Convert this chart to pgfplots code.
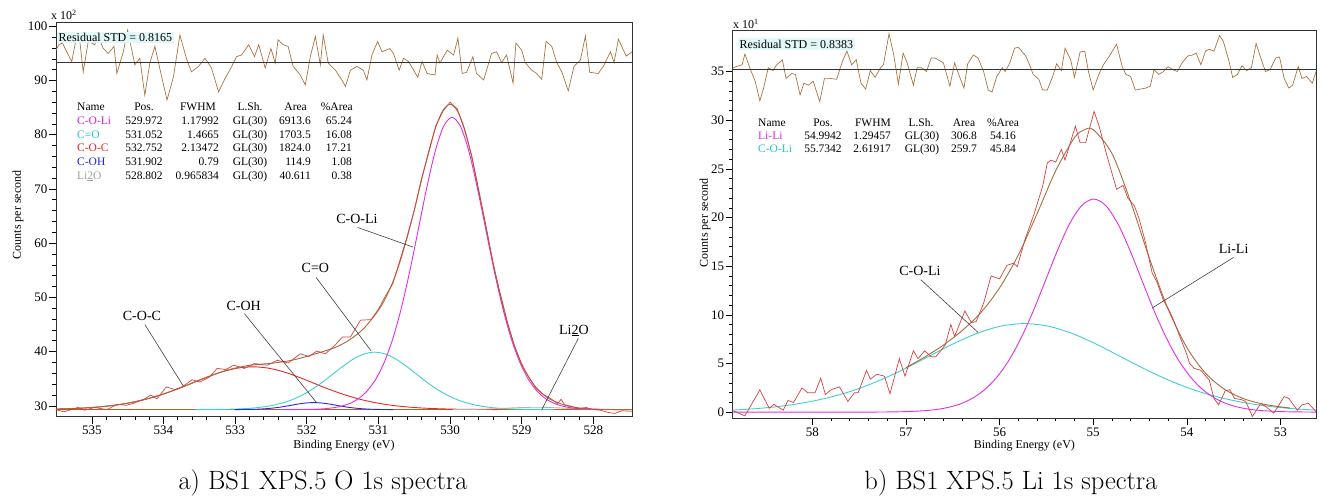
\documentclass[border=0pt]{standalone}
\usepackage{fontspec}
\usepackage{pgfplots}
\pgfplotsset{compat=1.18}
\newfontfamily\tnr{Liberation Serif}
\definecolor{rawred}{HTML}{D84040}
\definecolor{envbrown}{HTML}{A0703C}
\definecolor{resbrown}{HTML}{A87440}
\definecolor{cmag}{HTML}{E030E0}
\definecolor{ccyan}{HTML}{40D0D0}
\definecolor{cred}{HTML}{E82828}
\definecolor{cblue}{HTML}{2828E0}
\definecolor{cgray}{HTML}{B4B4B4}
\definecolor{bgbrown}{HTML}{A8642A}
\definecolor{stdbg}{HTML}{E2F8F8}
\definecolor{leader}{HTML}{404040}
\definecolor{tabmag}{HTML}{E020E0}
\definecolor{tabcyan}{HTML}{20C8C8}
\definecolor{tabred}{HTML}{F02020}
\definecolor{tabblue}{HTML}{2020E8}
\definecolor{tabgray}{HTML}{A0A0A0}
\newcommand\labf{\tnr\fontsize{14}{16}\selectfont}
\newcommand\tabf{\tnr\fontsize{11.5}{13}\selectfont}
\newcommand\smf{\tnr\fontsize{12}{14}\selectfont}
\newcommand\tcell[4]{\node[anchor=#1, inner sep=0pt, font=\tabf] at (#2pt,#3pt) {#4};}
\tikzset{lead/.style={leader, line width=0.6pt}}
\pgfplotsset{
 casa/.style={
  scale only axis,
  x dir=reverse,
  axis line style={line width=0.8pt, black!80},
  tick align=outside,
  xtick pos=left, ytick pos=left,
  minor x tick num=4, minor y tick num=4,
  major tick length=7pt, minor tick length=3.5pt,
  every tick/.style={black, line width=0.6pt},
  tick label style={font=\tnr\fontsize{13}{15}\selectfont},
  xticklabel style={yshift=1pt},
  yticklabel style={xshift=2pt},
  /pgf/number format/assume math mode=true,
  /pgf/number format/1000 sep={},
 },
}
\begin{document}
\begin{tikzpicture}
\useasboundingbox (0,0) rectangle (1325pt,497pt);
% ================= LEFT PANEL =================
\begin{axis}[casa, at={(56pt,80.3pt)}, anchor=south west, width=576pt, height=394pt,
 xmin=527.46, xmax=535.5, ymin=28, ymax=100.66,
 xtick={528,529,530,531,532,533,534,535}, ytick={30,40,50,60,70,80,90,100}]
% background
\addplot[bgbrown, line width=0.9pt] coordinates {(535.5,29.3) (527.46,29.3)};
% C-O-C
\addplot[cred, line width=0.9pt, smooth] coordinates {
(535.527,29.40) (535.314,29.48) (535.100,29.61) (534.887,29.82) (534.673,30.13) (534.460,30.59)
(534.246,31.22) (534.033,32.04) (533.819,33.04) (533.606,34.16) (533.392,35.29) (533.179,36.28)
(532.965,36.96) (532.752,37.20) (532.539,36.96) (532.325,36.28) (532.112,35.29) (531.898,34.16)
(531.685,33.04) (531.471,32.04) (531.258,31.22) (531.044,30.59) (530.831,30.13) (530.617,29.82)
(530.404,29.61) (530.190,29.48) (529.977,29.40) (529.763,29.35) (529.550,29.33) (529.336,29.31)};
% C=O
\addplot[ccyan, line width=0.9pt, smooth] coordinates {
(533.545,29.31) (533.252,29.34) (533.105,29.37) (532.958,29.43) (532.812,29.54) (532.665,29.71)
(532.519,29.99) (532.372,30.42) (532.225,31.03) (532.079,31.88) (531.932,32.98) (531.785,34.32)
(531.639,35.82) (531.492,37.33) (531.345,38.66) (531.199,39.57) (531.052,39.90) (530.905,39.57)
(530.759,38.66) (530.612,37.33) (530.465,35.82) (530.319,34.32) (530.172,32.98) (530.025,31.88)
(529.879,31.03) (529.732,30.42) (529.585,29.99) (529.439,29.71) (529.292,29.54) (529.146,29.43)
(528.999,29.37) (528.852,29.34) (528.559,29.31)};
% C-OH
\addplot[cblue, line width=0.9pt, smooth] coordinates {
(533.008,29.31) (532.850,29.33) (532.692,29.38) (532.613,29.44) (532.534,29.51) (532.455,29.62)
(532.376,29.75) (532.297,29.92) (532.218,30.10) (532.139,30.29) (532.060,30.45) (531.981,30.56)
(531.902,30.60) (531.823,30.56) (531.744,30.45) (531.665,30.29) (531.586,30.10) (531.507,29.92)
(531.428,29.75) (531.349,29.62) (531.270,29.51) (531.191,29.44) (531.112,29.38) (530.954,29.33)
(530.796,29.31)};
% Li2O
\addplot[cgray, line width=0.9pt, smooth] coordinates {
(529.962,29.31) (529.672,29.35) (529.382,29.46) (529.092,29.64) (528.802,29.75) (528.512,29.64)
(528.222,29.46) (527.932,29.35) (527.642,29.31)};
% C-O-Li
\addplot[cmag, line width=0.9pt, smooth] coordinates {
(532.332,29.30) (532.096,29.32) (531.860,29.39) (531.742,29.48) (531.624,29.66) (531.506,29.97)
(531.388,30.51) (531.270,31.40) (531.152,32.82) (531.034,34.98) (530.916,38.10) (530.798,42.41)
(530.680,48.02) (530.562,54.82) (530.444,62.45) (530.326,70.15) (530.208,76.89) (530.090,81.54)
(529.972,83.20) (529.854,81.54) (529.736,76.89) (529.618,70.15) (529.500,62.45) (529.382,54.82)
(529.264,48.02) (529.146,42.41) (529.028,38.10) (528.910,34.98) (528.792,32.82) (528.674,31.40)
(528.556,30.51) (528.438,29.97) (528.320,29.66) (528.202,29.48) (528.084,29.39) (527.848,29.32)
(527.612,29.30)};
% envelope
\addplot[envbrown, line width=0.9pt, smooth] coordinates {
(535.50,29.41) (535.20,29.54) (534.90,29.80) (534.60,30.27) (534.30,31.05) (534.00,32.19)
(533.70,33.66) (533.40,35.27) (533.10,36.63) (532.80,37.47) (532.50,37.84) (532.20,38.43)
(531.90,39.51) (531.60,40.79) (531.40,42.20) (531.20,44.33) (531.00,47.60) (530.90,49.88)
(530.80,52.78) (530.70,56.50) (530.60,60.97) (530.50,66.04) (530.40,71.52) (530.30,76.80)
(530.20,81.36) (530.10,84.45) (530.00,85.62) (529.90,84.45) (529.80,81.18) (529.70,76.04)
(529.60,69.82) (529.50,63.09) (529.40,56.49) (529.30,50.45) (529.20,45.29) (529.10,41.06)
(529.00,37.76) (528.90,35.27) (528.80,33.43) (528.70,32.14) (528.60,31.20) (528.40,30.13)
(528.20,29.62) (528.00,29.41) (527.75,29.33) (527.50,29.30)};
% raw data
\addplot[rawred, line width=0.7pt] coordinates {
(535.50,29.3) (535.39,28.9) (535.19,29.7) (535.10,29.2) (534.96,29.7) (534.79,29.3) (534.64,30.3)
(534.52,30.1) (534.41,30.5) (534.26,31.3) (534.18,32.0) (534.09,31.3) (533.96,33.5) (533.84,33.0)
(533.74,33.5) (533.60,34.8) (533.49,34.4) (533.36,35.3) (533.25,36.9) (533.13,36.7) (533.02,37.5)
(532.87,36.9) (532.73,37.8) (532.55,37.5) (532.41,38.4) (532.26,37.9) (532.09,39.6) (531.97,39.1)
(531.86,40.1) (531.74,39.6) (531.62,41.0) (531.50,42.7) (531.39,42.7) (531.25,45.8) (531.10,45.9)
(531.00,47.8) (530.90,50.3) (530.80,52.5) (530.70,56.8) (530.60,61.2) (530.50,66.0) (530.40,71.8)
(530.30,76.5) (530.20,81.6) (530.10,84.3) (530.00,86.0) (529.90,84.8) (529.80,81.0) (529.70,76.3)
(529.60,69.6) (529.50,63.3) (529.40,56.2) (529.30,50.8) (529.20,45.5) (529.10,41.0) (529.00,37.6)
(528.90,35.3) (528.80,33.2) (528.70,32.1) (528.60,31.4) (528.50,30.4) (528.45,31.2) (528.40,30.2)
(528.30,29.9) (528.20,29.5) (528.10,29.7) (528.00,29.3) (527.90,29.2) (527.80,28.8) (527.70,28.6)
(527.60,29.1) (527.46,29.0)};
% residual
\addplot[resbrown, line width=0.7pt] coordinates {
(535.50,95.6) (535.46,96.6) (535.41,96.9) (535.35,95.3) (535.28,93.5) (535.23,96.9) (535.18,98.7)
(535.12,91.6) (535.05,97.2) (534.96,96.6) (534.91,98.1) (534.84,95.9) (534.77,95.0) (534.69,96.3)
(534.65,91.3) (534.56,95.3) (534.50,99.3) (534.40,92.9) (534.33,94.1) (534.26,87.3) (534.19,93.2)
(534.12,96.3) (534.02,90.4) (533.95,86.4) (533.86,90.7) (533.77,98.4) (533.68,94.1) (533.61,91.6)
(533.51,92.6) (533.42,94.1) (533.33,92.3) (533.23,87.9) (533.14,90.4) (533.07,92.0) (532.98,94.4)
(532.91,94.7) (532.81,96.6) (532.73,94.4) (532.67,96.6) (532.58,92.3) (532.50,95.9) (532.44,93.2)
(532.40,97.5) (532.33,96.6) (532.26,96.3) (532.19,92.6) (532.09,91.0) (532.02,89.2) (531.95,94.4)
(531.88,98.1) (531.81,92.9) (531.77,98.4) (531.70,93.2) (531.60,91.9) (531.51,90.1) (531.46,88.9)
(531.39,91.9) (531.30,92.6) (531.21,91.9) (531.16,90.1) (531.09,94.7) (531.01,97.2) (530.95,95.3)
(530.84,95.9) (530.79,95.0) (530.71,91.9) (530.65,94.1) (530.58,93.5) (530.45,90.6) (530.39,93.5)
(530.32,91.3) (530.21,91.0) (530.18,94.7) (530.14,93.2) (530.04,95.6) (529.95,94.7) (529.89,97.8)
(529.83,91.3) (529.77,91.5) (529.68,94.4) (529.63,91.3) (529.53,90.1) (529.42,95.0) (529.35,95.3)
(529.28,93.3) (529.21,94.7) (529.12,89.5) (529.08,96.9) (529.00,95.6) (528.95,93.3) (528.86,91.9)
(528.79,91.3) (528.72,90.2) (528.66,97.2) (528.58,96.3) (528.51,93.3) (528.44,91.6) (528.35,88.1)
(528.27,92.6) (528.18,93.8) (528.11,98.2) (528.05,91.5) (527.93,91.3) (527.86,92.6) (527.76,95.3)
(527.71,93.3) (527.65,97.6) (527.54,94.5) (527.46,95.3)};
% residual baseline
\addplot[black!80, line width=0.8pt] coordinates {(535.5,93.3) (527.46,93.3)};
% labels
\node[font=\labf] at (axis cs:531.30,64.5) {C-O-Li};
\draw[lead] (axis cs:531.29,62.9) -- (axis cs:530.52,59.3);
\node[font=\labf] at (axis cs:531.88,55.5) {C=O};
\draw[lead] (axis cs:531.87,53.7) -- (axis cs:531.10,40.1);
\node[font=\labf] at (axis cs:532.88,48.4) {C-OH};
\draw[lead] (axis cs:532.87,47.0) -- (axis cs:531.86,30.55);
\node[font=\labf] at (axis cs:534.30,46.6) {C-O-C};
\draw[lead] (axis cs:534.26,45.0) -- (axis cs:533.72,33.6);
\node[font=\labf] at (axis cs:528.27,43.9) {Li\underline{2}O};
\draw[lead] (axis cs:528.21,42.4) -- (axis cs:528.72,29.3);
\end{axis}
% ================= RIGHT PANEL =================
\begin{axis}[casa, at={(732.7pt,79pt)}, anchor=south west, width=583.3pt, height=387.3pt,
 xmin=52.62, xmax=58.85, ymin=-0.6, ymax=39.2,
 xtick={53,54,55,56,57,58}, ytick={0,5,10,15,20,25,30,35}]
% C-O-Li (cyan)
\addplot[ccyan, line width=0.9pt, smooth] coordinates {
(58.877,0.20) (58.615,0.35) (58.353,0.59) (58.091,0.96) (57.829,1.49) (57.567,2.21) (57.306,3.16)
(57.044,4.31) (56.782,5.60) (56.520,6.90) (56.258,8.03) (55.996,8.82) (55.734,9.10) (55.472,8.82)
(55.210,8.03) (54.948,6.90) (54.686,5.60) (54.424,4.31) (54.162,3.16) (53.901,2.21) (53.639,1.49)
(53.377,0.96) (53.115,0.59) (52.853,0.35) (52.591,0.20)};
% Li-Li (magenta)
\addplot[cmag, line width=0.9pt, smooth] coordinates {
(58.85,0.0) (57.583,0.0) (57.324,0.01) (57.065,0.04) (56.936,0.08) (56.806,0.15) (56.677,0.27)
(56.548,0.49) (56.418,0.85) (56.289,1.43) (56.159,2.31) (56.030,3.58) (55.900,5.33) (55.771,7.60)
(55.641,10.37) (55.512,13.47) (55.382,16.60) (55.253,19.34) (55.123,21.22) (54.994,21.90)
(54.865,21.22) (54.735,19.34) (54.606,16.60) (54.476,13.47) (54.347,10.37) (54.217,7.60)
(54.088,5.33) (53.958,3.58) (53.829,2.31) (53.699,1.43) (53.570,0.85) (53.440,0.49) (53.311,0.27)
(53.182,0.15) (53.052,0.08) (52.923,0.04) (52.664,0.01) (52.61,0.0)};
% envelope
\addplot[envbrown, line width=0.9pt, smooth] coordinates {
(57.0,4.57) (56.8,5.66) (56.6,6.89) (56.4,8.38) (56.2,10.23) (56.0,12.77) (55.8,16.14) (55.6,20.37)
(55.4,24.81) (55.2,28.21) (55.1,28.99) (55.0,29.03) (54.8,26.59) (54.6,21.62) (54.4,15.83) (54.2,10.60)
(54.0,6.65) (53.8,4.00) (53.6,2.37) (53.4,1.41) (53.2,0.86) (53.0,0.54) (52.9,0.43)};
% raw data
\addplot[rawred, line width=0.7pt] coordinates {
(58.85,0.17) (58.72,-0.38) (58.56,2.29) (58.46,0.4) (58.41,0.8) (58.31,0.2) (58.26,1.2) (58.20,1.0)
(58.11,2.5) (58.05,2.0) (57.97,2.0) (57.91,3.5) (57.86,1.8) (57.80,2.3) (57.71,2.6) (57.62,1.1)
(57.55,2.0) (57.51,2.0) (57.42,4.3) (57.38,3.4) (57.31,3.9) (57.23,3.7) (57.17,1.9) (57.07,5.5)
(57.01,3.7) (56.92,6.3) (56.87,5.5) (56.80,6.3) (56.73,5.7) (56.68,5.7) (56.58,6.9) (56.52,9.0)
(56.48,7.8) (56.37,10.4) (56.30,9.2) (56.25,9.3) (56.17,11.2) (56.09,14.0) (56.00,13.7) (55.92,15.1)
(55.85,15.3) (55.81,14.95) (55.73,17.7) (55.63,20.4) (55.54,23.2) (55.49,25.6) (55.45,25.9)
(55.40,25.7) (55.34,27.0) (55.30,25.9) (55.19,29.4) (55.14,27.7) (55.08,27.7) (54.99,30.9)
(54.94,29.5) (54.86,26.6) (54.75,22.9) (54.68,23.3) (54.63,22.0) (54.56,21.2) (54.51,19.9)
(54.44,17.4) (54.37,14.3) (54.32,13.4) (54.25,11.5) (54.18,10.3) (54.13,9.2) (54.08,7.9) (54.01,6.2)
(53.97,5.0) (53.92,4.5) (53.85,4.3) (53.76,3.3) (53.71,1.4) (53.66,0.75) (53.59,2.2) (53.54,2.3)
(53.49,1.4) (53.42,1.3) (53.37,1.1) (53.30,-0.45) (53.21,0.9) (53.16,0.6) (53.07,-0.1) (52.96,1.6)
(52.91,1.4) (52.82,0.2) (52.77,0.75) (52.70,0.9) (52.62,0.06)};
% residual
\addplot[resbrown, line width=0.7pt] coordinates {
(58.85,35.35) (58.81,35.52) (58.75,35.69) (58.72,36.8) (58.66,35.2) (58.61,34.0) (58.56,32.0)
(58.52,33.3) (58.47,35.4) (58.42,35.1) (58.38,35.7) (58.32,36.2) (58.28,34.3) (58.22,34.8)
(58.18,34.7) (58.13,32.6) (58.09,33.8) (58.04,33.6) (57.99,34.0) (57.92,31.9) (57.87,34.3)
(57.81,34.3) (57.74,34.2) (57.68,36.0) (57.63,37.1) (57.58,35.7) (57.53,36.2) (57.48,33.8)
(57.43,33.2) (57.38,35.1) (57.33,34.4) (57.27,35.4) (57.24,35.7) (57.18,38.9) (57.13,36.7)
(57.08,33.7) (57.03,36.9) (56.99,36.0) (56.92,33.6) (56.88,35.4) (56.83,35.4) (56.78,35.0)
(56.73,36.4) (56.69,36.4) (56.60,35.9) (56.53,33.5) (56.48,35.9) (56.42,34.3) (56.38,33.3)
(56.34,35.8) (56.28,36.7) (56.23,36.4) (56.17,35.0) (56.12,33.1) (56.08,32.9) (56.03,34.5)
(55.97,35.4) (55.94,35.0) (55.89,35.9) (55.84,37.4) (55.80,37.5) (55.72,36.6) (55.68,35.7)
(55.64,34.7) (55.58,34.2) (55.54,33.1) (55.49,33.1) (55.44,34.3) (55.39,35.8) (55.34,35.1)
(55.30,37.4) (55.24,36.2) (55.20,34.4) (55.14,37.0) (55.09,37.1) (55.05,35.0) (55.00,33.1)
(54.94,34.7) (54.89,35.7) (54.82,36.7) (54.75,37.8) (54.69,35.5) (54.65,34.7) (54.60,34.5)
(54.55,33.1) (54.44,33.3) (54.39,33.5) (54.35,35.2) (54.30,34.7) (54.25,35.0) (54.20,35.5)
(54.15,35.2) (54.10,35.0) (54.05,35.9) (53.99,36.6) (53.94,36.7) (53.90,36.9) (53.85,35.7)
(53.80,37.1) (53.76,37.3) (53.71,37.1) (53.65,38.7) (53.61,38.1) (53.55,36.1) (53.51,34.4)
(53.46,34.7) (53.41,35.6) (53.36,35.1) (53.31,35.4) (53.26,37.9) (53.21,36.4) (53.16,35.0)
(53.11,35.2) (53.05,36.4) (53.01,36.5) (52.96,34.3) (52.91,33.3) (52.87,33.6) (52.81,35.5)
(52.77,34.3) (52.72,34.5) (52.66,33.8) (52.62,35.0)};
\addplot[black!80, line width=0.8pt] coordinates {(58.85,35.25) (52.62,35.25)};
% labels
\node[font=\labf] at (axis cs:56.85,14.5) {C-O-Li};
\draw[lead] (axis cs:56.84,13.6) -- (axis cs:56.23,8.2);
\node[font=\labf] at (axis cs:53.50,16.8) {Li-Li};
\draw[lead] (axis cs:53.50,15.9) -- (axis cs:54.37,10.7);
\end{axis}
% ================= TEXT OUTSIDE / OVERLAYS =================
\node[anchor=north west, fill=stdbg, inner sep=1.5pt, font=\smf] at (57pt,465.5pt) {Residual STD = 0.8165};
\node[anchor=north west, fill=stdbg, inner sep=1.5pt, font=\smf] at (738pt,459pt) {Residual STD = 0.8383};
\node[anchor=base west, inner sep=0pt, font=\smf] at (51pt,477pt) {x 10\textsuperscript{2}};
\node[anchor=base west, inner sep=0pt, font=\smf] at (733pt,468.5pt) {x 10\textsuperscript{1}};
\node[anchor=base, font=\smf] at (344pt,48pt) {Binding Energy (eV)};
\node[anchor=base, font=\smf] at (1024.4pt,48pt) {Binding Energy (eV)};
\node[rotate=90, font=\smf] at (18pt,282pt) {Counts per second};
\node[rotate=90, font=\smf] at (705pt,274pt) {Counts per second};
% left table
\tcell{base west}{77}{386.2}{Name}
\tcell{base}{144}{386.2}{Pos.}
\tcell{base east}{216}{386.2}{FWHM}
\tcell{base}{250}{386.2}{L.Sh.}
\tcell{base east}{307}{386.2}{Area}
\tcell{base east}{353}{386.2}{\%Area}
\tcell{base west}{77}{372.5}{\textcolor{tabmag}{C-O-Li}}
\tcell{base west}{77}{358.8}{\textcolor{tabcyan}{C=O}}
\tcell{base west}{77}{345.1}{\textcolor{tabred}{C-O-C}}
\tcell{base west}{77}{331.4}{\textcolor{tabblue}{C-OH}}
\tcell{base west}{77}{317.7}{\textcolor{tabgray}{Li\underline{2}O}}
\tcell{base}{144}{372.5}{529.972}
\tcell{base}{144}{358.8}{531.052}
\tcell{base}{144}{345.1}{532.752}
\tcell{base}{144}{331.4}{531.902}
\tcell{base}{144}{317.7}{528.802}
\tcell{base east}{219}{372.5}{1.17992}
\tcell{base east}{219}{358.8}{1.4665}
\tcell{base east}{219}{345.1}{2.13472}
\tcell{base east}{219}{331.4}{0.79}
\tcell{base east}{219}{317.7}{0.965834}
\tcell{base}{250}{372.5}{GL(30)}
\tcell{base}{250}{358.8}{GL(30)}
\tcell{base}{250}{345.1}{GL(30)}
\tcell{base}{250}{331.4}{GL(30)}
\tcell{base}{250}{317.7}{GL(30)}
\tcell{base east}{311}{372.5}{6913.6}
\tcell{base east}{311}{358.8}{1703.5}
\tcell{base east}{311}{345.1}{1824.0}
\tcell{base east}{311}{331.4}{114.9}
\tcell{base east}{311}{317.7}{40.611}
\tcell{base east}{352}{372.5}{65.24}
\tcell{base east}{352}{358.8}{16.08}
\tcell{base east}{352}{345.1}{17.21}
\tcell{base east}{352}{331.4}{1.08}
\tcell{base east}{352}{317.7}{0.38}
% right table
\tcell{base west}{758}{370.8}{Name}
\tcell{base}{823}{370.8}{Pos.}
\tcell{base east}{891}{370.8}{FWHM}
\tcell{base}{921}{370.8}{L.Sh.}
\tcell{base}{964}{370.8}{Area}
\tcell{base}{1003}{370.8}{\%Area}
\tcell{base west}{758}{357.5}{\textcolor{tabmag}{Li-Li}}
\tcell{base west}{758}{344.2}{\textcolor{tabcyan}{C-O-Li}}
\tcell{base}{823}{357.5}{54.9942}
\tcell{base}{823}{344.2}{55.7342}
\tcell{base east}{891}{357.5}{1.29457}
\tcell{base east}{891}{344.2}{2.61917}
\tcell{base}{922}{357.5}{GL(30)}
\tcell{base}{922}{344.2}{GL(30)}
\tcell{base}{964}{357.5}{306.8}
\tcell{base}{964}{344.2}{259.7}
\tcell{base}{1003}{357.5}{54.16}
\tcell{base}{1003}{344.2}{45.84}
% captions
\node[anchor=base, font=\fontsize{26.5}{30}\selectfont] at (323pt,7pt) {a) BS1 XPS.5 O 1s spectra};
\node[anchor=base, font=\fontsize{26.5}{30}\selectfont] at (1011pt,7pt) {b) BS1 XPS.5 Li 1s spectra};
\end{tikzpicture}
\end{document}
